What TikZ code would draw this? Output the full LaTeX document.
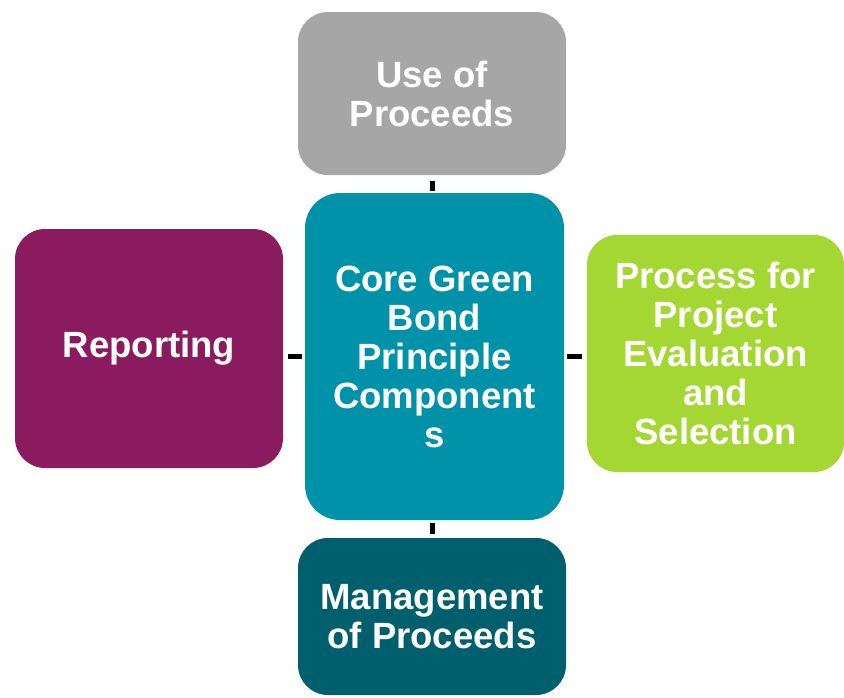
\documentclass[tikz,border=0pt]{standalone}
\usepackage{fontspec}
\setmainfont{Liberation Sans}
\definecolor{cgray}{HTML}{A6A6A6}
\definecolor{cteal}{HTML}{0092A9}
\definecolor{cpurple}{HTML}{8A1B5E}
\definecolor{cgreen}{HTML}{A5D732}
\definecolor{cdark}{HTML}{005F6D}
\begin{document}
\begin{tikzpicture}[x=1pt,y=-1pt,
  box/.style={rounded corners=30pt, inner sep=0pt, align=center, text=white,
    font=\fontsize{36.5}{39}\selectfont\bfseries},
  link/.style={line width=5pt, draw=black}]
\useasboundingbox (0,0) rectangle (844,697);
\node[box, fill=cgray, minimum width=268pt, minimum height=163pt] (top) at (432,93.5) {Use of\\Proceeds};
\node[box, fill=cteal, minimum width=259pt, minimum height=327pt, rounded corners=35pt] (core) at (434.5,356.5) {Core Green\\Bond\\Principle\\Component\\s};
\node[box, fill=cpurple, minimum width=268pt, minimum height=239pt] (left) at (149,348.5) {Reporting};
\node[box, fill=cgreen, minimum width=257pt, minimum height=237pt] (right) at (715.5,353.5) {Process for\\Project\\Evaluation\\and\\Selection};
\node[box, fill=cdark, minimum width=268pt, minimum height=157pt] (bottom) at (432,616.5) {Management\\of Proceeds};
\draw[link, shorten <=6pt, shorten >=2pt] (top.south) -- (top.south |- core.north);
\draw[link, shorten <=5pt, shorten >=3pt] (left.east |- core.west) -- (core.west);
\draw[link, shorten <=3pt, shorten >=5pt] (core.east) -- (core.east -| right.west);
\draw[link, shorten <=3pt, shorten >=4pt] (core.south -| top.south) -- (bottom.north);
\end{tikzpicture}
\end{document}
